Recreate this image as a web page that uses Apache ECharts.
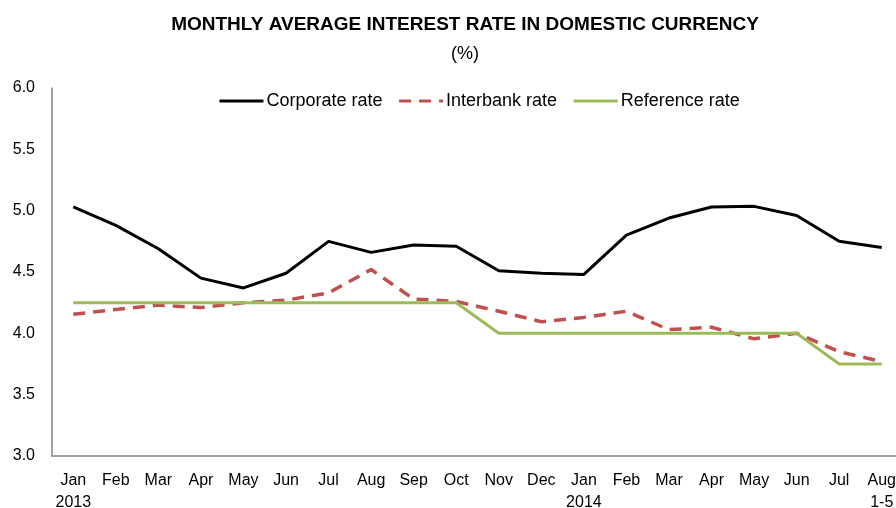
<!DOCTYPE html>
<html><head><meta charset="utf-8">
<script src="https://cdn.jsdelivr.net/npm/echarts@6/dist/echarts.min.js"></script>
<style>html,body{margin:0;padding:0;background:#fff}#c{width:896px;height:508px}</style>
</head><body><div id="c"></div>
<script>
const categories = ['Jan\n2013','Feb','Mar','Apr','May','Jun','Jul','Aug','Sep','Oct','Nov','Dec','Jan\n2014','Feb','Mar','Apr','May','Jun','Jul','Aug\n1-5'];
const corporateRate = [5.03,4.88,4.69,4.45,4.37,4.49,4.75,4.66,4.72,4.71,4.51,4.49,4.48,4.80,4.94,5.03,5.035,4.96,4.75,4.70];
const interbankRate = [4.155,4.195,4.23,4.21,4.25,4.27,4.33,4.52,4.28,4.26,4.18,4.095,4.13,4.18,4.03,4.05,3.955,4.00,3.85,3.77];
const referenceRate = [4.25,4.25,4.25,4.25,4.25,4.25,4.25,4.25,4.25,4.25,4.00,4.00,4.00,4.00,4.00,4.00,4.00,4.00,3.75,3.75];
const yTicks = {min:3.0, max:6.0, interval:0.5};
const FONT = "'Liberation Sans',sans-serif";
const chart = echarts.init(document.getElementById('c'), null, {renderer:'canvas'});
chart.setOption({
  animation:false,
  backgroundColor:'#fff',
  title:[
    {text:'MONTHLY AVERAGE INTEREST RATE IN DOMESTIC CURRENCY', left:460, top:10, textAlign:'center',
     textStyle:{fontFamily:FONT, fontSize:19, fontWeight:'bold', color:'#000'}},
    {text:'(%)', left:460, top:40, textAlign:'center',
     textStyle:{fontFamily:FONT, fontSize:18, fontWeight:'normal', color:'#000'}}
  ],
  legend:{
    left:213, top:87, itemWidth:44, itemHeight:10, itemGap:15,
    itemStyle:{opacity:0},
    lineStyle:{width:3},
    textStyle:{fontFamily:FONT, fontSize:18, color:'#000', padding:[0,0,0,-2]},
    data:['Corporate rate','Interbank rate','Reference rate']
  },
  grid:{left:52, right:-7, top:88, bottom:52, containLabel:false, outerBoundsMode:'none'},
  xAxis:{
    type:'category', data:categories, boundaryGap:true,
    axisLine:{lineStyle:{color:'#868686', width:1.5}},
    axisTick:{show:false},
    axisLabel:{fontFamily:FONT, fontSize:16, color:'#000', margin:14, lineHeight:22, interval:0}
  },
  yAxis:{
    type:'value', min:yTicks.min, max:yTicks.max, interval:yTicks.interval,
    axisLine:{show:true, lineStyle:{color:'#868686', width:1.5}},
    axisTick:{show:false},
    splitLine:{show:false},
    axisLabel:{fontFamily:FONT, fontSize:16, color:'#000', margin:17, formatter:v=>v.toFixed(1)}
  },
  series:[
    {name:'Corporate rate', type:'line', data:corporateRate, symbol:'none',
     lineStyle:{color:'#000', width:3}, itemStyle:{color:'#000'}},
    {name:'Interbank rate', type:'line', data:interbankRate, symbol:'none',
     lineStyle:{color:'#C0504D', width:3.5, type:[12,8]}, itemStyle:{color:'#C0504D'}},
    {name:'Reference rate', type:'line', data:referenceRate, symbol:'none',
     lineStyle:{color:'#9BBB59', width:3}, itemStyle:{color:'#9BBB59'}}
  ]
});
</script></body></html>
